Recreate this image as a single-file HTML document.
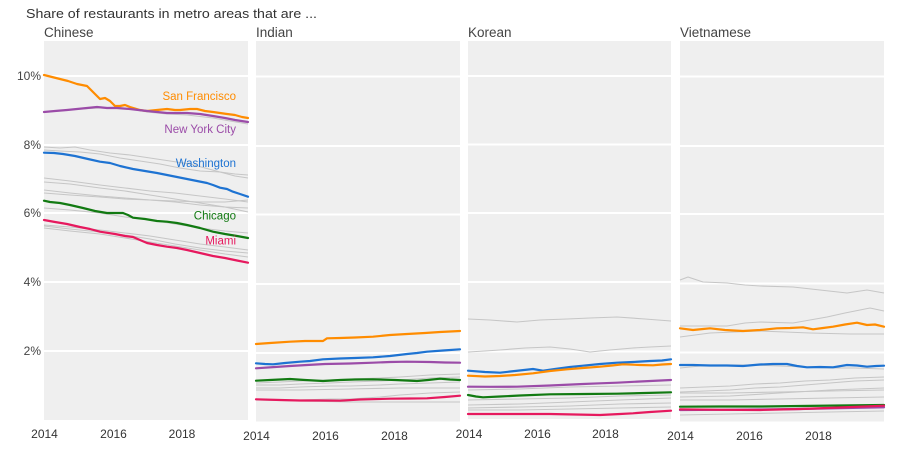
<!DOCTYPE html>
<html>
<head>
<meta charset="utf-8">
<style>
  html,body{margin:0;padding:0;background:#fff;}
  svg{display:block;}
  text{font-family:"Liberation Sans",sans-serif;}
</style>
</head>
<body>
<svg width="900" height="449" viewBox="0 0 900 449" xmlns="http://www.w3.org/2000/svg">
  <!-- Title -->
  <text x="26" y="18" font-size="13" fill="#333" textLength="291" lengthAdjust="spacingAndGlyphs">Share of restaurants in metro areas that are ...</text>

  <!-- Panel titles -->
  <text x="44" y="37" font-size="13.5" fill="#444">Chinese</text>
  <text x="256" y="37" font-size="13.5" fill="#444">Indian</text>
  <text x="468" y="37" font-size="13.5" fill="#444">Korean</text>
  <text x="680" y="37" font-size="13.5" fill="#444">Vietnamese</text>

  <!-- Panel backgrounds -->
  <rect x="44" y="41" width="204" height="379" fill="#efefef"/>
  <rect x="256" y="41" width="204" height="380.5" fill="#efefef"/>
  <rect x="468" y="41" width="203" height="378" fill="#efefef"/>
  <rect x="680" y="41" width="204" height="380.5" fill="#efefef"/>

  <!-- Gridlines -->
  <g stroke="#fff" stroke-width="2">
    <line x1="44" x2="248" y1="76" y2="76"/>
    <line x1="44" x2="248" y1="145" y2="145"/>
    <line x1="44" x2="248" y1="213" y2="213"/>
    <line x1="44" x2="248" y1="282" y2="282"/>
    <line x1="44" x2="248" y1="351" y2="351"/>

    <line x1="256" x2="460" y1="76.5" y2="76.5"/>
    <line x1="256" x2="460" y1="146" y2="146"/>
    <line x1="256" x2="460" y1="214.5" y2="214.5"/>
    <line x1="256" x2="460" y1="284" y2="284"/>
    <line x1="256" x2="460" y1="353" y2="353"/>

    <line x1="468" x2="671" y1="76" y2="76"/>
    <line x1="468" x2="671" y1="144.5" y2="144.5"/>
    <line x1="468" x2="671" y1="213" y2="213"/>
    <line x1="468" x2="671" y1="282" y2="282"/>
    <line x1="468" x2="671" y1="351.5" y2="351.5"/>

    <line x1="680" x2="884" y1="76.5" y2="76.5"/>
    <line x1="680" x2="884" y1="146" y2="146"/>
    <line x1="680" x2="884" y1="214" y2="214"/>
    <line x1="680" x2="884" y1="283.5" y2="283.5"/>
    <line x1="680" x2="884" y1="352.5" y2="352.5"/>
  </g>

  <!-- Y-axis labels -->
  <g font-size="12" fill="#444" text-anchor="end">
    <text x="41" y="80">10%</text>
    <text x="41" y="149">8%</text>
    <text x="41" y="217">6%</text>
    <text x="41" y="286">4%</text>
    <text x="41" y="355">2%</text>
  </g>

  <!-- X-axis labels -->
  <g font-size="12" fill="#333" text-anchor="middle">
    <text x="44.5" y="438">2014</text>
    <text x="113.5" y="438">2016</text>
    <text x="182" y="438">2018</text>

    <text x="256.5" y="440">2014</text>
    <text x="325.5" y="440">2016</text>
    <text x="394.5" y="440">2018</text>

    <text x="469" y="438">2014</text>
    <text x="537.5" y="438">2016</text>
    <text x="605.5" y="438">2018</text>

    <text x="680.5" y="440">2014</text>
    <text x="749.5" y="440">2016</text>
    <text x="818.5" y="440">2018</text>
  </g>

  <!-- Gray lines -->
  <g fill="none" stroke="#c6c6c6" stroke-width="1.1" stroke-linejoin="round">
    <!-- Chinese -->
    <polyline points="44,112 60,111 80,109 100,108 115,107 130,109 147,112 167,114 187,115 213,118 230,121 248,124"/>
    <polyline points="44,147 60,148 75,147 90,150 110,153 130,155 150,158 170,161 190,164 205,168 220,172 235,176 248,178"/>
    <polyline points="44,150 60,151 80,152 100,154 120,158 140,161 160,164 180,168 200,171 220,172 235,174 248,175"/>
    <polyline points="44,178 70,181 100,185 125,188 150,191 175,193 200,196 225,199 248,202"/>
    <polyline points="44,182 70,184 100,188 125,191 150,195 175,199 200,203 225,207 248,212"/>
    <polyline points="44,190 70,193 100,196 125,198 150,200 175,202 200,205 225,207 248,208"/>
    <polyline points="44,193 70,195 100,197 125,199 150,200 175,201 200,202 225,202 248,200"/>
    <polyline points="44,208 70,210 100,213 125,217 150,220 175,224 200,228 225,231 248,233"/>
    <polyline points="44,225 70,227 100,230 125,233 150,236 175,240 200,244 225,247 248,250"/>
    <polyline points="44,226 70,229 100,232 125,235 150,239 175,244 200,248 225,251 248,253"/>
    <polyline points="44,228 70,231 100,234 125,238 150,242 175,246 200,250 225,254 248,257"/>
    <!-- Indian -->
    <polyline points="256,383 280,382 300,381 330,380 350,379 380,378 400,377 430,375 460,374"/>
    <polyline points="256,385 280,385 300,384 330,383 350,382 380,381 400,380 430,378 460,377"/>
    <polyline points="256,388 280,388 300,387 330,386 350,386 380,385 400,384 430,383 460,382"/>
    <polyline points="256,390 300,390 350,389 400,388 460,388"/>
    <polyline points="256,399 280,400 300,400 330,399 350,399 380,397 400,395 430,393 460,392"/>
    <polyline points="256,400 300,401 350,402 400,402 460,402"/>
    <!-- Korean -->
    <polyline points="468,319 490,320 517,322 540,320 567,319 590,318 617,317 645,319 671,321"/>
    <polyline points="468,352 485,351 500,350 525,348 550,347 570,349 590,352 610,350 633,348 650,347 671,346"/>
    <polyline points="468,390 520,389 570,387 620,386 671,385"/>
    <polyline points="468,400 520,399 570,398 620,396 671,395"/>
    <polyline points="468,405 520,404 570,402 620,400 671,398"/>
    <polyline points="468,408 520,407 570,406 620,404 671,403"/>
    <polyline points="468,410 520,410 570,409 620,408 671,407"/>
    <!-- Vietnamese -->
    <polyline points="680,280 688,277 703,282 727,283 745,285 760,286 793,287 820,290 847,293 867,290 884,293"/>
    <polyline points="680,326 700,326 727,326 745,323 760,322 793,323 810,320 827,317 845,313 860,310 870,308 884,311"/>
    <polyline points="680,337 710,333 735,332 760,331 785,332 810,333 850,334 884,334"/>
    <polyline points="680,368 700,366 727,365 755,365 780,366 805,367 830,368 855,368 884,369"/>
    <polyline points="680,388 705,387 730,386 755,384 780,383 805,381 830,380 855,378 884,377"/>
    <polyline points="680,392 705,391 730,390 755,388 780,387 805,385 830,383 855,381 884,380"/>
    <polyline points="680,393 730,393 780,392 830,391 884,390"/>
    <polyline points="680,397 730,396 780,393 830,390 884,388"/>
    <polyline points="680,400 730,400 780,399 830,398 884,397"/>
    <polyline points="680,415 730,414 780,413 830,412 884,411"/>
  </g>

  <!-- Colored lines -->
  <g fill="none" stroke-width="2.2" stroke-linejoin="round" stroke-linecap="round">
    <!-- Chinese -->
    <polyline stroke="#ff8c00" points="44,75 52,77 60,79 68,81 77,84 87,86 93,92 100,99 105,98 110,101 115,106 120,106 125,105 130,107 140,110 147,111 157,110 167,109 175,110 180,110 190,109 197,109 205,111 213,112 220,113 227,114 235,115 242,117 248,118"/>
    <polyline stroke="#9b4ca8" points="44,112 55,111 67,110 77,109 87,108 97,107 107,108 117,108 130,109 147,111 157,112 167,113 177,113 187,113 200,114 213,116 225,118 235,120 248,122"/>
    <polyline stroke="#1e73d2" points="44,152.7 54,153 63,154 75,156 88,159 100,161.7 110,163 120,166 133,169 145,171 157,173 167,175 177,177 187,179 197,181 207,183 213,185 220,187.7 227,189 233,191.7 240,194 248,196.7"/>
    <polyline stroke="#127a12" points="44,200.7 50,202 60,203 70,205 83,208 95,211 107,213 115,213 123,213 128,215 133,217.7 145,219 157,221 167,221.7 177,223 187,225 200,228 213,231.7 225,234 237,236 248,238"/>
    <polyline stroke="#e6195e" points="44,220 55,222 67,224 80,227 90,229 100,231.7 115,234 125,236 133,237 140,240 147,243 157,245 167,246.7 177,248 187,250 200,253 213,256 225,258 237,260.5 248,262.7"/>
    <!-- Indian -->
    <polyline stroke="#ff8c00" points="256,344 270,343 290,341.7 305,341 323,341 327,338.3 340,338 355,337.5 373,336.7 390,335 407,334 425,333 440,332 460,331"/>
    <polyline stroke="#1e73d2" points="256,363.3 265,364 273,364.3 285,363 300,361.7 310,361 323,359.3 340,358.5 355,358 373,357.3 390,356 407,354 417,353 427,351.7 443,350.5 460,349.3"/>
    <polyline stroke="#9b4ca8" points="256,368.3 275,367 290,366 307,365 325,364 350,363.5 373,362.7 390,362 407,361.7 430,362 445,362.5 460,362.7"/>
    <polyline stroke="#127a12" points="256,380.7 270,380 290,379 305,380 323,381 340,380 355,379.5 373,379.3 395,380 417,381 428,380 440,378.7 450,379.5 460,380"/>
    <polyline stroke="#e6195e" points="256,399.3 280,400 300,400.5 320,400.5 340,400.7 360,399.5 390,398.7 410,398.5 427,398.3 445,397 460,395.7"/>
    <!-- Korean -->
    <polyline stroke="#1e73d2" points="468,370.7 485,372 500,372.7 515,371 533,369 543,370.7 555,369 570,367 583,365.7 600,364 617,362.7 633,362 650,361 662,360.5 671,359.3"/>
    <polyline stroke="#ff8c00" points="468,375.7 485,376.5 500,376 515,375 533,373.3 550,371 567,369.3 583,368 600,366.7 612,365.5 623,364.3 640,365 653,365.3 662,364.5 671,364"/>
    <polyline stroke="#9b4ca8" points="468,386.7 490,386.8 517,386.7 550,385.5 583,384 600,383.3 617,382.7 640,381.5 671,380"/>
    <polyline stroke="#127a12" points="468,395 476,396.5 483,397.3 500,396.5 520,395.5 550,394.3 585,394 617,393.7 645,393 671,392.3"/>
    <polyline stroke="#e6195e" points="468,414 500,414 530,414 550,414 575,414.5 600,415 620,414 633,413.3 650,412 671,410.7"/>
    <!-- Vietnamese -->
    <polyline stroke="#ff8c00" points="680,328.3 693,330 703,329 710,328.3 725,330 743,331 760,330 777,328.3 790,328 803,327.3 813,329.3 823,328 833,326.7 845,324.5 857,322.7 867,325 875,324.5 884,326.7"/>
    <polyline stroke="#1e73d2" points="680,365 693,365 710,365.5 727,365.5 743,366 760,364.5 773,364 787,364 797,366 807,367.3 820,367 833,367.3 847,365 857,365.5 867,366.7 876,366 884,365.7"/>
    <polyline stroke="#127a12" points="680,406.7 720,406.5 760,406.5 800,406 840,405.5 884,405"/>
    <polyline stroke="#9b4ca8" points="680,410 720,409.8 760,409.5 800,409 840,408.2 884,407.3"/>
    <polyline stroke="#e6195e" points="680,409.3 720,409.8 760,410 800,409 840,407.5 884,405.7"/>
  </g>

  <!-- Series labels -->
  <g font-size="11.5" text-anchor="end">
    <text x="236" y="100" fill="#ff8c00">San Francisco</text>
    <text x="236" y="133" fill="#9b4ca8">New York City</text>
    <text x="236" y="167" fill="#1e73d2">Washington</text>
    <text x="236" y="219.5" fill="#127a12">Chicago</text>
    <text x="236" y="244.5" fill="#e6195e">Miami</text>
  </g>
</svg>
</body>
</html>
